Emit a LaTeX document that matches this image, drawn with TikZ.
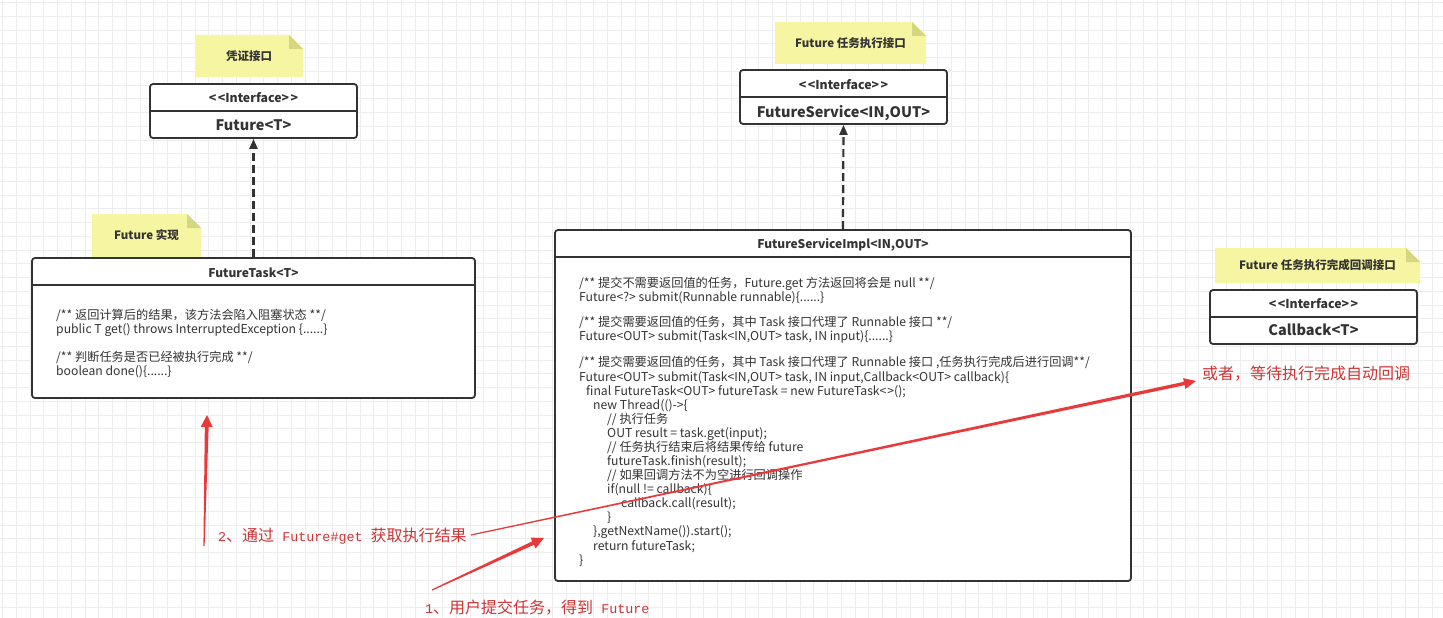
\documentclass[tikz,border=0pt]{standalone}
\usepackage{fontspec}
\setmainfont{Noto Sans CJK SC}
\newfontfamily\yah{Noto Sans CJK SC}
\newfontfamily\monof{Liberation Mono}
\usetikzlibrary{arrows.meta,calc}
\definecolor{gridc}{RGB}{237,237,237}
\definecolor{boxc}{RGB}{51,51,51}
\definecolor{txt}{RGB}{51,51,51}
\definecolor{notefill}{RGB}{246,246,162}
\definecolor{notefold}{RGB}{214,214,130}
\definecolor{redtxt}{RGB}{206,52,54}
\definecolor{redarr}{RGB}{232,58,58}
\newcommand\rmono[1]{{\monof\fontsize{13.4}{16}\selectfont #1}}
\newcommand\notebox[6]{%
  \fill[notefill] (#2,#3) -- ({#4-14},#3) -- (#4,{#3+14}) -- (#4,#5) -- (#2,#5) -- cycle;
  \fill[notefold] ({#4-14},#3) -- ({#4-14},{#3+14}) -- (#4,{#3+14}) -- cycle;
  \node[notetext] (#1) at ({(#2+#4)/2},{(#3+#5)/2}) {#6};}
\newcommand\taper[5]{%
  \coordinate (tph) at ($(#2)!12pt!(#1)$);
  \fill[redarr] ($(#1)!#3!90:(#2)$) -- ($(tph)!#4!-90:(#1)$) -- ($(tph)!#5!-90:(#1)$) -- (#2)
     -- ($(tph)!#5!90:(#1)$) -- ($(tph)!#4!90:(#1)$) -- ($(#1)!#3!-90:(#2)$) -- cycle;}
\newcommand\cl[4]{\node[code] (#1) at (#2,#3) {#4};}
\tikzset{
  umlbox/.style={draw=boxc, line width=1.8pt, rounded corners=3pt, fill=white, inner sep=0pt},
  divider/.style={draw=boxc, line width=1.8pt},
  stereo/.style={font=\fontsize{12.3}{14}\selectfont\bfseries, text=txt, inner sep=0pt, text depth=0pt},
  iname/.style={font=\fontsize{14.5}{16}\selectfont\bfseries, text=txt, inner sep=0pt, text depth=0pt},
  cname/.style={font=\fontsize{12}{14}\selectfont\bfseries, text=txt, inner sep=0pt, text depth=0pt},
  notetext/.style={font=\fontsize{11.5}{14}\selectfont\bfseries, text=txt, inner sep=0pt},
  code/.style={font=\fontsize{12.2}{14}\selectfont, text=txt, inner sep=0pt, anchor=west, text height=10.5pt, text depth=1.5pt},
  redlabel/.style={font=\yah\fontsize{16}{18}\selectfont, text=redtxt, inner sep=0pt, anchor=west, text height=14pt, text depth=2pt},
  dep/.style={draw=boxc, line width=2.2pt, dash pattern=on 8pt off 4pt, -{Triangle[length=10pt,width=8pt]}},
  gridline/.style={draw=gridc, line width=0.8pt},
}
\begin{document}
\begin{tikzpicture}[x=1pt,y=-1pt]
\useasboundingbox (0,0) rectangle (1443,618);
\fill[white] (0,0) rectangle (1443,618);
\foreach \i in {0,...,104} {\draw[gridline] ({2.5+13.75*\i},0) -- ({2.5+13.75*\i},618);}
\foreach \j in {0,...,44} {\draw[gridline] (0,{2.5+13.75*\j}) -- (1443,{2.5+13.75*\j});}

% notes
\notebox{n1}{195}{35}{303}{77}{凭证接口}
\notebox{n2}{92}{214}{201}{257}{Future 实现}
\notebox{n3}{775}{22}{926}{64}{Future 任务执行接口}
\notebox{n4}{1215}{248}{1420}{283}{Future 任务执行完成回调接口}

% interface boxes
\node[umlbox, minimum width=207pt, minimum height=54pt] (fut) at (253.5,111) {};
\draw[divider] (fut.west |- 0,111) -- (fut.east |- 0,111);
\node[stereo] (futs) at (253.5,98) {<\kern1.5pt<Interface>\kern1.5pt>};
\node[iname] (futn) at (253.5,125.5) {Future<T>};

\node[umlbox, minimum width=207pt, minimum height=54pt] (fsvc) at (843.5,97) {};
\draw[divider] (fsvc.west |- 0,97) -- (fsvc.east |- 0,97);
\node[stereo] (fsvcs) at (843.5,84) {<\kern1.5pt<Interface>\kern1.5pt>};
\node[iname] (fsvcn) at (843.5,111.5) {FutureService<IN,OUT>};

\node[umlbox, minimum width=207pt, minimum height=54pt] (cb) at (1313.5,317) {};
\draw[divider] (cb.west |- 0,317) -- (cb.east |- 0,317);
\node[stereo] (cbs) at (1313.5,303) {<\kern1.5pt<Interface>\kern1.5pt>};
\node[iname] (cbn) at (1313.5,330) {Callback<T>};

% FutureTask
\node[umlbox, minimum width=443pt, minimum height=140pt] (ft) at (253.5,328) {};
\draw[divider] (ft.west |- 0,285) -- (ft.east |- 0,285);
\node[cname] (ftn) at (253.5,272.5) {FutureTask<T>};
\cl{f1}{56}{315}{/** 返回计算后的结果，该方法会陷入阻塞状态 **/}
\cl{f2}{56}{329}{public T get() throws InterruptedException \{......\}}
\cl{f3}{56}{357}{/** 判断任务是否已经被执行完成 **/}
\cl{f4}{56}{371}{boolean done()\{......\}}

% FutureServiceImpl
\node[umlbox, minimum width=576pt, minimum height=351pt] (impl) at (843,405.5) {};
\draw[divider] (impl.west |- 0,257) -- (impl.east |- 0,257);
\node[cname] (impln) at (843,244) {FutureServiceImpl<IN,OUT>};
\cl{c1}{579}{283}{/** 提交不需要返回值的任务，Future.get 方法返回将会是 null **/}
\cl{c2}{579}{297}{Future<?> submit(Runnable runnable)\{......\}}
\cl{c3}{579}{322}{/** 提交需要返回值的任务，其中 Task 接口代理了 Runnable 接口 **/}
\cl{c4}{579}{336}{Future<OUT> submit(Task<IN,OUT> task, IN input)\{......\}}
\cl{c5}{579}{362}{/** 提交需要返回值的任务，其中 Task 接口代理了 Runnable 接口 ,任务执行完成后进行回调**/}
\cl{c6}{579}{377}{Future<OUT> submit(Task<IN,OUT> task, IN input,Callback<OUT> callback)\{}
\cl{c7}{586}{391}{final FutureTask<OUT> futureTask = new FutureTask<\kern1pt>();}
\cl{c8}{593}{405}{new Thread(()->\{}
\cl{c9}{607}{419}{// 执行任务}
\cl{c10}{607}{433}{OUT result = task.get(input);}
\cl{c11}{607}{447}{// 任务执行结束后将结果传给 future}
\cl{c12}{607}{461}{futureTask.finish(result);}
\cl{c13}{607}{475}{// 如果回调方法不为空进行回调操作}
\cl{c14}{607}{489}{if(null != callback)\{}
\cl{c15}{621}{503}{callback.call(result);}
\cl{c16}{607}{517}{\}}
\cl{c17}{593}{531}{\},getNextName()).start();}
\cl{c18}{593}{546}{return futureTask;}
\cl{c19}{579}{560}{\}}

% realization connectors
\draw[dep] (ft.north) -- (fut.south);
\draw[dep] (impl.north) -- (fsvc.south);

% red labels
\node[redlabel] (t1) at (1202,373) {或者，等待执行完成自动回调};
\node[redlabel] (t2) at (218,535) {\rmono{2}、通过\rmono{\ Future\#get\ }获取执行结果};
\node[redlabel] (t3) at (425,607) {\rmono{1}、用户提交任务，得到\rmono{\ Future}};

% red arrows
\coordinate (aA0) at (432,590);
\coordinate (aA1) at (544,538);
\coordinate (aB0) at (204,546);
\coordinate (aB1) at (207,415);
\coordinate (aC0) at ([xshift=4pt]t2.east);
\coordinate (aC1) at (1196,381);
\taper{aA0}{aA1}{0.6pt}{1.9pt}{6pt}
\taper{aB0}{aB1}{0.6pt}{1.9pt}{6pt}
\taper{aC0}{aC1}{0.6pt}{1.7pt}{5.5pt}
\end{tikzpicture}
\end{document}
